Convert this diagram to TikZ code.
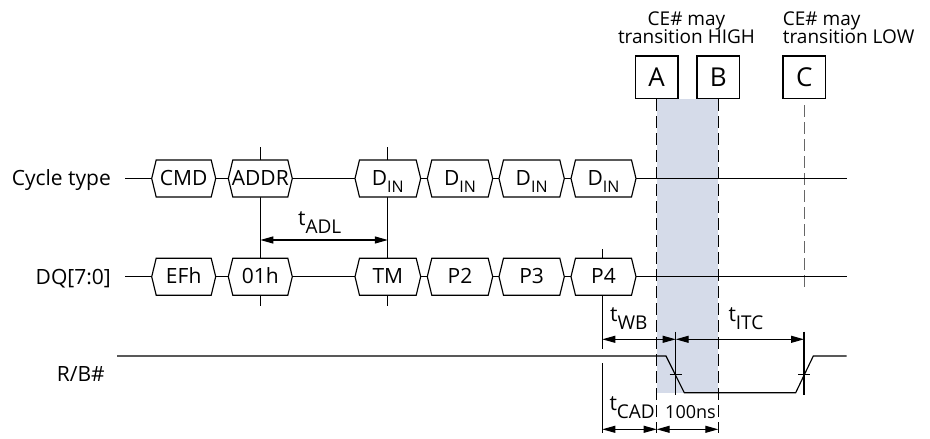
\documentclass[tikz,border=0pt]{standalone}
\usepackage{fontspec}
\setmainfont{Open Sans}
\usetikzlibrary{arrows.meta}
\definecolor{shadecol}{HTML}{D5DBE9}
\definecolor{dashgray}{HTML}{666666}
\newcommand\subs[1]{\raisebox{-8pt}{\fontsize{19}{19}\selectfont #1}}
\newcommand\subin[1]{\raisebox{-7pt}{\fontsize{16}{16}\selectfont #1}}
\newcommand\hexbox[5]{%
  \draw[sig,fill=white] (#2,#4) -- ({#2+4.5},{#4-18.5}) -- ({#3-4.5},{#4-18.5}) -- (#3,#4) -- ({#3-4.5},{#4+18.5}) -- ({#2+4.5},{#4+18.5}) -- cycle;
  \node[lab,anchor=base] (#1) at ({(#2+#3)/2},{#4+7}) {#5};}
\begin{document}
\begin{tikzpicture}[x=1pt,y=-1pt,
  sig/.style={line width=1.15pt, line join=miter},
  lab/.style={font=\fontsize{21}{21}\selectfont, inner sep=0pt},
  small/.style={font=\fontsize{19}{19}\selectfont, inner sep=0pt},
  letterbox/.style={draw, line width=1.15pt, minimum size=42.5pt, inner sep=0pt, text height=18.6pt, text depth=0pt, font=\fontsize{26}{26}\selectfont, fill=white},
  dashline/.style={line width=1.15pt, dash pattern=on 12pt off 5pt},
  dim/.style={line width=1.15pt, {Triangle[length=13pt,width=7pt]}-{Triangle[length=13pt,width=7pt]}},
]
\useasboundingbox (0,0) rectangle (930,439);

% top boxes
\node[letterbox] (A) at (656.7,77.3) {A};
\node[letterbox] (B) at (718.3,77.3) {B};
\node[letterbox] (C) at (804.3,77.3) {C};

% shaded window
\coordinate (shadeEnd) at (718.3,392.7);
\fill[shadecol] (A.south) rectangle (shadeEnd);

% dashed lines
\coordinate (Aend) at (656.7,433);
\coordinate (Bend) at (718.3,433);
\coordinate (Cstart) at (804.3,105);
\coordinate (Cend) at (804.3,289);
\draw[dashline] (A.south) -- (Aend);
\draw[dashline] (B.south) -- (Bend);
\draw[dashline, draw=dashgray, line width=1pt] (Cstart) -- (Cend);

% solid guide lines
\coordinate (v1t) at (260.3,147);
\coordinate (v1b) at (260.3,306);
\coordinate (v2t) at (387.8,147);
\coordinate (v2b) at (387.8,306);
\coordinate (v3t) at (602.3,249);
\coordinate (v3b) at (602.3,349);
\coordinate (v4t) at (602.3,363);
\coordinate (v4b) at (602.3,433);
\coordinate (v5t) at (675.7,331.7);
\coordinate (v5b) at (675.7,395);
\coordinate (v6t) at (804,331.7);
\coordinate (v6b) at (804,395);
\draw[sig] (v1t) -- (v1b);
\draw[sig] (v2t) -- (v2b);
\draw[sig] (v3t) -- (v3b);
\draw[sig] (v4t) -- (v4b);
\draw[sig] (v5t) -- (v5b);
\draw[sig] (v6t) -- (v6b);

% row lines
\coordinate (r1s) at (125,178.5);
\coordinate (r1e) at (846.7,178.5);
\coordinate (r2s) at (125,276.7);
\coordinate (r2e) at (846.7,276.7);
\draw[sig] (r1s) -- (r1e);
\draw[sig] (r2s) -- (r2e);

% bus boxes
\hexbox{cmd}{151.7}{215.7}{178.5}{CMD}
\hexbox{addr}{228.3}{292.3}{178.5}{ADDR}
\hexbox{dinA}{355}{420.7}{178.5}{D\subin{IN}}
\hexbox{dinB}{427.3}{492.7}{178.5}{D\subin{IN}}
\hexbox{dinC}{499}{564.3}{178.5}{D\subin{IN}}
\hexbox{dinD}{571}{636}{178.5}{D\subin{IN}}
\hexbox{efh}{151.7}{215.7}{276.7}{EFh}
\hexbox{ooh}{228.3}{292.3}{276.7}{01h}
\hexbox{tm}{355}{420.7}{276.7}{TM}
\hexbox{ptwo}{427.3}{492.7}{276.7}{P2}
\hexbox{pthree}{499}{564.3}{276.7}{P3}
\hexbox{pfour}{571}{636}{276.7}{P4}

% R/B# waveform
\coordinate (rb0) at (117,356);
\coordinate (rb1) at (666,356);
\coordinate (rb2) at (684.3,392.7);
\coordinate (rb3) at (795.7,392.7);
\coordinate (rb4) at (813.3,356);
\coordinate (rb5) at (846.7,356);
\draw[sig] (rb0) -- (rb1) -- (rb2) -- (rb3) -- (rb4) -- (rb5);
\coordinate (k1a) at (669.5,374.3);
\coordinate (k1b) at (681.5,374.3);
\coordinate (k2a) at (798,374.3);
\coordinate (k2b) at (810,374.3);
\draw[sig] (k1a) -- (k1b);
\draw[sig] (k2a) -- (k2b);

% dimension arrows
\coordinate (adlA) at (260.3,240);
\coordinate (adlB) at (387.8,240);
\coordinate (wbA) at (602.3,339.3);
\coordinate (wbB) at (675.7,339.3);
\coordinate (itcB) at (804,339.3);
\coordinate (cadA) at (602.3,429.3);
\coordinate (cadB) at (656.7,429.3);
\coordinate (nsB) at (718.3,429.3);
\draw[dim] (adlA) -- (adlB);
\draw[dim] (wbA) -- (wbB);
\draw[dim] (wbB) -- (itcB);
\draw[dim] (cadA) -- (cadB);
\draw[dim] (cadB) -- (nsB);

% timing labels
\node[lab, anchor=base west] (tadl) at (298,225) {t\subs{ADL}};
\node[lab, anchor=base west] (twb) at (610,321.7) {t\subs{WB}};
\node[lab, anchor=base west] (titc) at (728.3,321.7) {t\subs{ITC}};
\node[lab, anchor=base west] (tcad) at (609.3,410) {t\subs{CAD}};
\node[font=\fontsize{18}{18}\selectfont, inner sep=0pt, anchor=base west] (ns) at (665,418.3) {100ns};

% row labels
\node[lab, anchor=base east] (cyc) at (111,185.7) {Cycle type};
\node[lab, anchor=base east] (dq) at (111,284) {DQ[7:0]};
\node[lab, anchor=base east] (rb) at (105,381) {R/B\#};

% top labels
\node[small, anchor=base] (h1) at (686.5,25) {CE\# may};
\node[small, anchor=base] (h2) at (686.5,43.3) {transition HIGH};
\node[small, anchor=base west] (l1) at (782.7,25) {CE\# may};
\node[small, anchor=base west] (l2) at (782.7,43.3) {transition LOW};
\end{tikzpicture}
\end{document}
